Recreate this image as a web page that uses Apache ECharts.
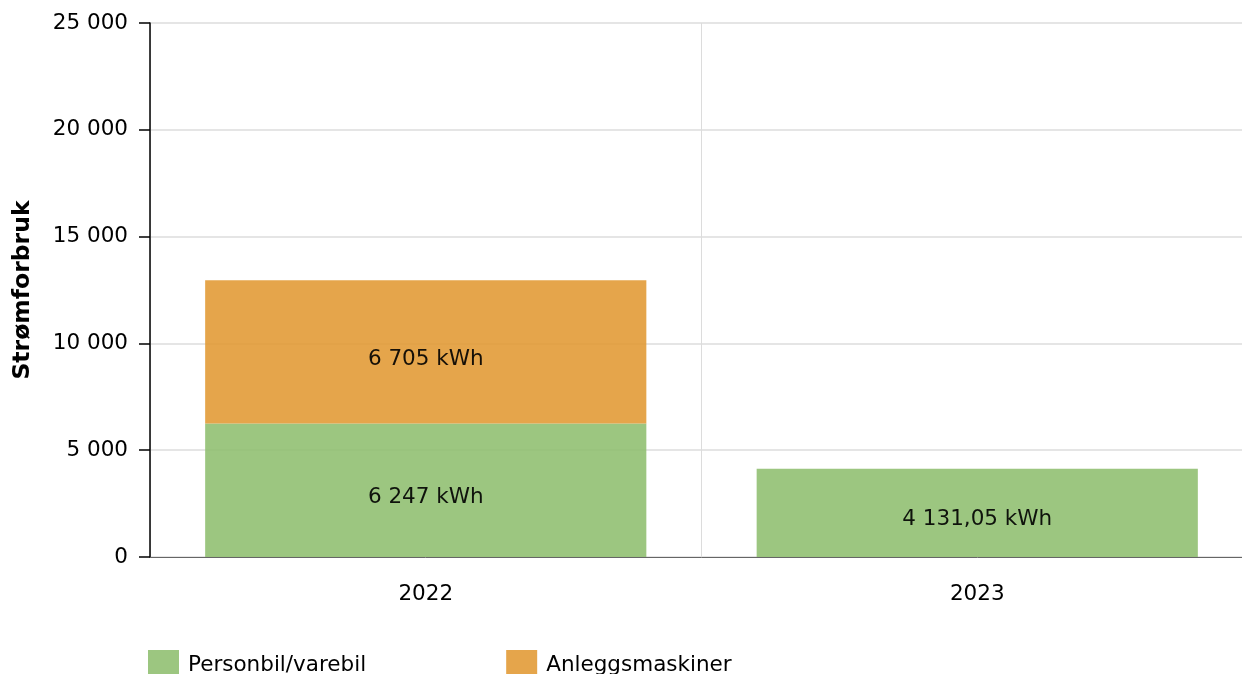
<!DOCTYPE html>
<html>
<head>
<meta charset="utf-8">
<script src="https://cdn.jsdelivr.net/npm/echarts@6/dist/echarts.min.js"></script>
<style>
html,body{margin:0;padding:0;background:#fff;overflow:hidden;width:1242px;height:674px;}
#chart{width:1253px;height:674px;}
</style>
</head>
<body>
<div id="chart"></div>
<script>
const categories = ['2022', '2023'];
const personbil = [6247, 4131.05];
const anlegg = [6705, null];
const labelsPersonbil = ['6 247 kWh', '4 131,05 kWh'];
const labelsAnlegg = ['6 705 kWh', ''];
const yTicks = [0, 5000, 10000, 15000, 20000, 25000];

const FONT = 'DejaVu Sans';
const FS = 21.5;
function fmt(v){ return String(v).replace(/\B(?=(\d{3})+(?!\d))/g, ' '); }

const chart = echarts.init(document.getElementById('chart'), null, {renderer:'canvas'});
chart.setOption({
  animation: false,
  textStyle: {fontFamily: FONT},
  grid: {left: 150, top: 23, bottom: 117, right: 0, containLabel: false},
  legend: {
    left: 143, top: 645,
    icon: 'rect',
    itemWidth: 31, itemHeight: 30, itemGap: 140,
    textStyle: {fontFamily: FONT, fontSize: FS, color: '#000', padding: [0, 0, 0, 4]},
    data: ['Personbil/varebil', 'Anleggsmaskiner']
  },
  xAxis: {
    type: 'category',
    data: categories,
    axisLine: {lineStyle: {color: '#666', width: 1}},
    axisTick: {alignWithLabel: true, length: 8, lineStyle: {color: '#999'}},
    axisLabel: {fontFamily: FONT, fontSize: FS, color: '#000', margin: 26},
    splitLine: {show: true, lineStyle: {color: '#dcdcdc'}}
  },
  yAxis: {
    type: 'value',
    min: yTicks[0], max: yTicks[yTicks.length-1], interval: 5000,
    name: 'Strømforbruk',
    nameLocation: 'middle',
    nameGap: 115,
    nameTextStyle: {fontFamily: FONT, fontSize: 23.5, fontWeight: 'bold', color: '#000'},
    axisLine: {show: true, lineStyle: {color: '#000', width: 1.5}},
    axisTick: {show: true, length: 11, lineStyle: {color: '#000', width: 1.5}},
    axisLabel: {fontFamily: FONT, fontSize: FS, color: '#000', margin: 22, padding: [5, 0, 0, 0], formatter: fmt},
    splitLine: {lineStyle: {color: '#dcdcdc', width: 1.5}}
  },
  series: [
    {
      name: 'Personbil/varebil', type: 'bar', stack: 's',
      barCategoryGap: '20%',
      data: personbil,
      itemStyle: {color: '#91c072', opacity: 0.9},
      label: {show: true, position: 'inside', offset: [0, 7], fontFamily: FONT, fontSize: FS, color: '#000',
        formatter: p => labelsPersonbil[p.dataIndex]}
    },
    {
      name: 'Anleggsmaskiner', type: 'bar', stack: 's',
      barCategoryGap: '20%',
      data: anlegg,
      itemStyle: {color: '#e29b37', opacity: 0.9},
      label: {show: true, position: 'inside', offset: [0, 7], fontFamily: FONT, fontSize: FS, color: '#000',
        formatter: p => labelsAnlegg[p.dataIndex]}
    }
  ]
});
</script>
</body>
</html>
